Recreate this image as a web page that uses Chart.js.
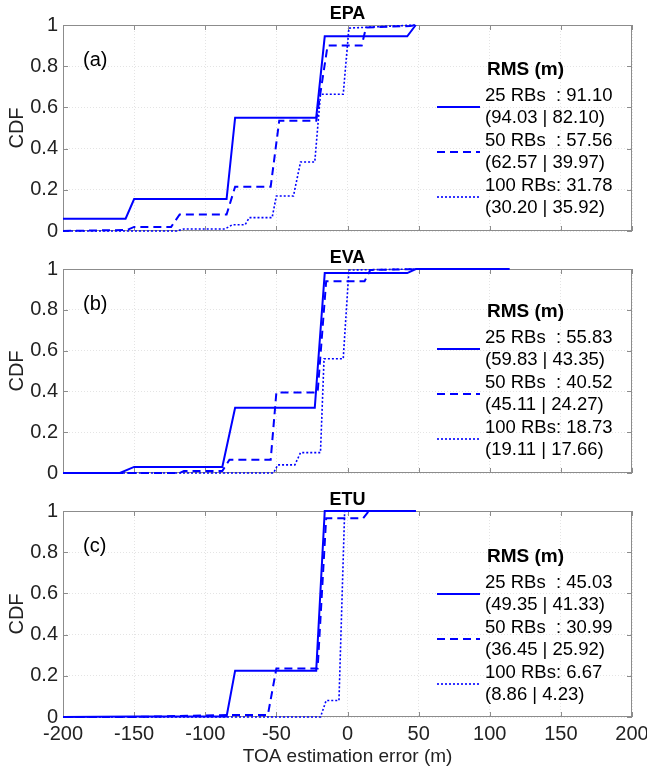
<!DOCTYPE html>
<html>
<head>
<meta charset="UTF-8">
<title>TOA estimation error CDF</title>
<style>
    body { margin: 0; background: #ffffff; }
    #wrap { position: relative; width: 647px; height: 769px; }
    canvas { position: absolute; left: 0; }
</style>
<script src="https://cdn.jsdelivr.net/npm/chart.js"></script>
</head>
<body>
<div id="wrap">
    <canvas id="epa" width="647" height="240" style="top:0px"></canvas>
    <canvas id="eva" width="647" height="240" style="top:240px"></canvas>
    <canvas id="etu" width="647" height="289" style="top:480px"></canvas>
</div>
<script>
// --- data (x = TOA error in m, y = CDF) ---
var epa25X  = [-200, -156, -150, -85, -79, -22, -16, 42, 48];
var epa25Y  = [0.06, 0.06, 0.155, 0.155, 0.55, 0.55, 0.945, 0.945, 1];
var epa50X  = [-200, -155, -150, -124, -118, -85, -79, -54, -48, -22, -14, 10, 13, 44, 48];
var epa50Y  = [0, 0.005, 0.02, 0.02, 0.08, 0.08, 0.215, 0.215, 0.535, 0.535, 0.9, 0.9, 0.988, 0.995, 1];
var epa100X = [-200, -120, -115, -86, -81, -72, -69, -53, -50, -38, -33, -23, -19, -3, 1, 48];
var epa100Y = [0, 0, 0.01, 0.01, 0.03, 0.03, 0.065, 0.065, 0.17, 0.17, 0.335, 0.335, 0.664, 0.664, 0.985, 1];

var eva25X  = [-200, -160, -150, -88, -79, -23, -16, 42, 48, 114];
var eva25Y  = [0, 0, 0.03, 0.03, 0.32, 0.32, 0.98, 0.98, 1, 1];
var eva50X  = [-200, -118, -115, -88, -83, -54, -50, -21, -15, 12, 16, 50];
var eva50Y  = [0, 0, 0.01, 0.01, 0.065, 0.065, 0.395, 0.395, 0.94, 0.94, 0.995, 1];
var eva100X = [-200, -52, -49, -37, -33, -19, -16.5, -3, 1, 50];
var eva100Y = [0, 0, 0.04, 0.04, 0.1, 0.1, 0.56, 0.56, 0.995, 1];

var etu25X  = [-200, -150, -85, -79, -22, -16, 48];
var etu25Y  = [0, 0.003, 0.003, 0.225, 0.225, 1, 1];
var etu50X  = [-200, -150, -84, -56, -50, -21, -15, 11, 15, 48];
var etu50Y  = [0, 0, 0.01, 0.01, 0.235, 0.235, 0.965, 0.965, 1, 1];
var etu100X = [-200, -19, -15, -6, -2, 48];
var etu100Y = [0, 0, 0.08, 0.08, 1, 1];

var seriesNames = ['25 RBs', '50 RBs', '100 RBs'];
var epaRms = ['25 RBs  : 91.10', '(94.03 | 82.10)', '50 RBs  : 57.56', '(62.57 | 39.97)', '100 RBs: 31.78', '(30.20 | 35.92)'];
var evaRms = ['25 RBs  : 55.83', '(59.83 | 43.35)', '50 RBs  : 40.52', '(45.11 | 24.27)', '100 RBs: 18.73', '(19.11 | 17.66)'];
var etuRms = ['25 RBs  : 45.03', '(49.35 | 41.33)', '50 RBs  : 30.99', '(36.45 | 25.92)', '100 RBs: 6.67', '(8.86 | 4.23)'];

var FONT = "'Liberation Sans', Arial, Helvetica, sans-serif";
var BLUE = '#0000ff';
var styles = [
    { dash: [], width: 2 },
    { dash: [8, 5], width: 2 },
    { dash: [2, 2], width: 1.6 }
];

Chart.defaults.font.family = FONT;
Chart.defaults.color = '#222222';

function toPoints(xs, ys) {
    var pts = [];
    for (var i = 0; i < xs.length; i++) {
        pts.push({ x: xs[i], y: ys[i] });
    }
    return pts;
}

// box, inner ticks, title, panel tag and the RMS legend
var deco = {
    id: 'deco',
    beforeDatasetsDraw: function(chart) {
        var a = chart.chartArea, ctx = chart.ctx;
        var xs = chart.scales.x, ys = chart.scales.y;
        ctx.save();
        ctx.strokeStyle = '#8c8c8c';
        ctx.lineWidth = 1;
        ctx.strokeRect(a.left + 0.5, a.top + 0.5, a.right - a.left - 1, a.bottom - a.top - 1);
        ctx.beginPath();
        xs.ticks.forEach(function(t) {
            var px = Math.round(xs.getPixelForValue(t.value)) + 0.5;
            ctx.moveTo(px, a.bottom); ctx.lineTo(px, a.bottom - 5);
            ctx.moveTo(px, a.top); ctx.lineTo(px, a.top + 5);
        });
        ys.ticks.forEach(function(t) {
            var py = Math.round(ys.getPixelForValue(t.value)) + 0.5;
            ctx.moveTo(a.left, py); ctx.lineTo(a.left + 5, py);
            ctx.moveTo(a.right, py); ctx.lineTo(a.right - 5, py);
        });
        ctx.stroke();
        ctx.restore();
    },
    afterDraw: function(chart) {
        var o = chart.options.plugins.deco;
        var a = chart.chartArea, ctx = chart.ctx;
        ctx.save();
        ctx.fillStyle = '#000000';
        ctx.textBaseline = 'middle';

        ctx.textAlign = 'center';
        ctx.font = 'bold 18px ' + FONT;
        ctx.fillText(o.title, (a.left + a.right) / 2, a.top - 11);

        ctx.textAlign = 'left';
        ctx.font = '20px ' + FONT;
        ctx.fillText(o.tag, a.left + 20, a.top + 35);

        ctx.font = 'bold 19px ' + FONT;
        ctx.fillText('RMS (m)', a.right - 145, a.top + o.legendTop);

        ctx.font = '18.5px ' + FONT;
        chart.data.datasets.forEach(function(ds, i) {
            var ly = a.top + o.legendTop + 37 + 45 * i;
            ctx.strokeStyle = ds.borderColor;
            ctx.lineWidth = ds.borderWidth;
            ctx.setLineDash(ds.borderDash);
            ctx.beginPath();
            ctx.moveTo(a.right - 195, ly);
            ctx.lineTo(a.right - 152, ly);
            ctx.stroke();
            ctx.fillText(o.legend[2 * i], a.right - 147, ly - 11);
            ctx.fillText(o.legend[2 * i + 1], a.right - 147, ly + 11);
        });
        ctx.restore();
    }
};

function makePanel(id, xsList, ysList, legend, title, tag, top, xHeight, showX, legendTop) {
    var datasets = [];
    for (var i = 0; i < xsList.length; i++) {
        datasets.push({
            label: seriesNames[i],
            data: toPoints(xsList[i], ysList[i]),
            borderColor: BLUE,
            borderWidth: styles[i].width,
            borderDash: styles[i].dash,
            pointRadius: 0,
            tension: 0,
            fill: false,
            clip: 4
        });
    }
    return new Chart(document.getElementById(id), {
        type: 'line',
        data: { datasets: datasets },
        options: {
            responsive: false,
            animation: false,
            events: [],
            layout: { padding: { left: 0, top: top, right: 15, bottom: 0 } },
            scales: {
                x: {
                    type: 'linear',
                    min: -200,
                    max: 200,
                    ticks: { display: showX, stepSize: 50, padding: 5, font: { size: 20 }, color: '#222222' },
                    grid: { color: '#e4e4e4', drawTicks: false },
                    border: { display: false, dash: [1, 2] },
                    title: {
                        display: showX,
                        text: 'TOA estimation error (m)',
                        font: { size: 19 },
                        color: '#222222',
                        padding: { top: 0, bottom: 1 }
                    },
                    afterFit: function(s) {
                        s.height = xHeight;
                        s.paddingLeft = 0;
                        s.paddingRight = 0;
                    }
                },
                y: {
                    min: 0,
                    max: 1,
                    ticks: {
                        stepSize: 0.2,
                        padding: 5,
                        font: { size: 20 },
                        color: '#222222',
                        callback: function(v) { return String(Math.round(v * 10) / 10); }
                    },
                    grid: { color: '#e4e4e4', drawTicks: false },
                    border: { display: false, dash: [1, 2] },
                    title: {
                        display: true,
                        text: 'CDF',
                        font: { size: 20 },
                        color: '#222222',
                        padding: { top: 5, bottom: 0 }
                    },
                    afterFit: function(s) {
                        s.width = 63;
                        s.paddingTop = 0;
                        s.paddingBottom = 0;
                    }
                }
            },
            plugins: {
                legend: { display: false },
                tooltip: { enabled: false },
                deco: { title: title, tag: tag, legend: legend, legendTop: legendTop }
            }
        },
        plugins: [deco]
    });
}

makePanel('epa', [epa25X, epa50X, epa100X], [epa25Y, epa50Y, epa100Y], epaRms, 'EPA', '(a)', 25, 9, false, 45);
makePanel('eva', [eva25X, eva50X, eva100X], [eva25Y, eva50Y, eva100Y], evaRms, 'EVA', '(b)', 29, 7, false, 43);
makePanel('etu', [etu25X, etu50X, etu100X], [etu25Y, etu50Y, etu100Y], etuRms, 'ETU', '(c)', 31, 52, true, 46);
</script>
</body>
</html>
